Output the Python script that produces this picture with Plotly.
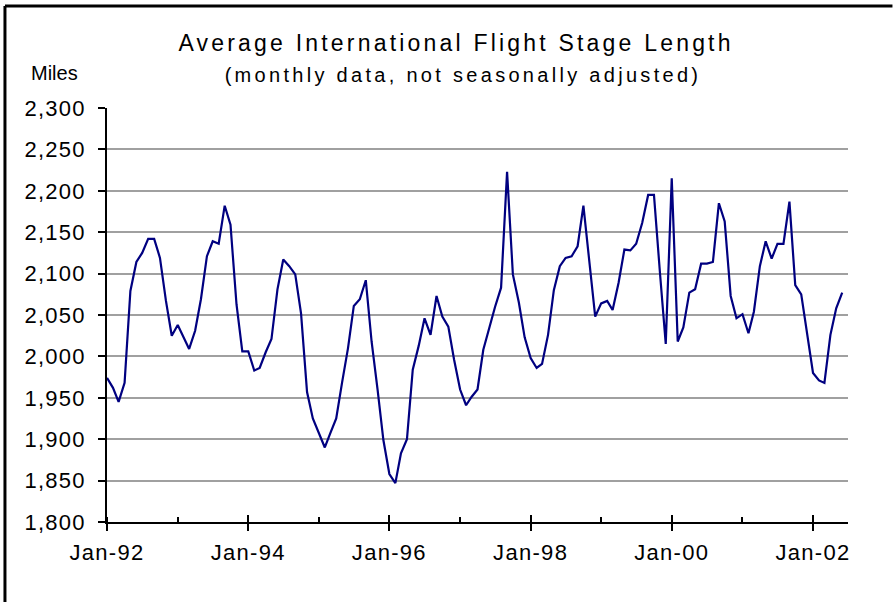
import plotly.graph_objects as go
import pandas as pd

# Monthly average international flight stage length (miles), Jan-1992 .. Jun-2002
start_month = "1992-01-01"
stage_length = [
    1974, 1962, 1945, 1968, 2079, 2114, 2125, 2142, 2142, 2119, 2067, 2025,  # 1992
    2038, 2022, 2009, 2031, 2069, 2121, 2139, 2136, 2182, 2159, 2063, 2006,  # 1993
    2006, 1983, 1986, 2005, 2021, 2081, 2117, 2109, 2099, 2052, 1957, 1925,  # 1994
    1908, 1890, 1907, 1925, 1968, 2010, 2061, 2069, 2092, 2018, 1960, 1899,  # 1995
    1858, 1847, 1883, 1900, 1984, 2013, 2046, 2026, 2073, 2048, 2036, 1996,  # 1996
    1960, 1941, 1951, 1960, 2008, 2036, 2060, 2083, 2223, 2099, 2065, 2023,  # 1997
    1998, 1986, 1991, 2026, 2080, 2109, 2119, 2121, 2133, 2182, 2114, 2048,  # 1998
    2064, 2067, 2056, 2089, 2129, 2128, 2136, 2161, 2195, 2195, 2101, 2015,  # 1999
    2215, 2018, 2035, 2077, 2081, 2112, 2112, 2114, 2185, 2163, 2073, 2046,  # 2000
    2051, 2028, 2054, 2109, 2139, 2118, 2136, 2136, 2187, 2086, 2075, 2028,  # 2001
    1980, 1971, 1968, 2026, 2058, 2077,                                      # 2002
]
months = pd.date_range(start=start_month, periods=len(stage_length), freq="MS")

x_tick_vals = ["1992-01-01", "1994-01-01", "1996-01-01", "1998-01-01", "2000-01-01", "2002-01-01"]
x_tick_text = ["Jan-92", "Jan-94", "Jan-96", "Jan-98", "Jan-00", "Jan-02"]
y_tick_vals = [1800, 1850, 1900, 1950, 2000, 2050, 2100, 2150, 2200, 2250, 2300]
x_range = ["1992-01-01", "2002-07-01"]
y_range = [1800, 2300]

title_text = "Average International Flight Stage Length"
subtitle_text = "(monthly data, not seasonally adjusted)"
y_unit_text = "Miles"

FONT = "Liberation Sans, Arial, sans-serif"

fig = go.Figure()
fig.add_trace(go.Scatter(
    x=months, y=stage_length, mode="lines",
    line=dict(color="#000080", width=2.2),
    hoverinfo="x+y", showlegend=False,
))
# invisible companion trace so the overlay axis (upper half of crossing ticks) is drawn
fig.add_trace(go.Scatter(
    x=months, y=stage_length, mode="lines", xaxis="x2",
    line=dict(color="rgba(0,0,0,0)", width=0), hoverinfo="skip", showlegend=False,
))

fig.update_layout(
    width=896, height=602,
    margin=dict(l=107, r=48, t=108, b=80),
    paper_bgcolor="white", plot_bgcolor="white",
    font=dict(family=FONT, size=22, color="black"),
    title=dict(
        text=title_text, x=0.509, xanchor="center", xref="container",
        y=0.929, yanchor="middle", yref="container",
        font=dict(family=FONT, size=23, color="black"),
    ),
    xaxis=dict(
        type="date", range=x_range,
        tickvals=x_tick_vals, ticktext=x_tick_text,
        ticks="outside", ticklen=7, tickwidth=2, tickcolor="black",
        showline=True, linecolor="black", linewidth=2,
        showgrid=False, zeroline=False, ticklabelstandoff=3,
        tickfont=dict(family=FONT, size=22, color="black"),
        minor=dict(dtick="M12", tick0="1992-01-01", ticks="inside", ticklen=5,
                   tickwidth=2, tickcolor="black", showgrid=False),
    ),
    xaxis2=dict(
        type="date", overlaying="x", matches="x", range=x_range,
        tickvals=x_tick_vals, showticklabels=False,
        ticks="inside", ticklen=7, tickwidth=2, tickcolor="black",
        showline=False, showgrid=False, zeroline=False, side="bottom",
    ),
    yaxis=dict(
        range=y_range, tickvals=y_tick_vals, tickformat=",",
        ticks="outside", ticklen=7, tickwidth=2, tickcolor="black",
        showline=True, linecolor="black", linewidth=2,
        showgrid=True, gridcolor="#a0a0a0", gridwidth=2,
        zeroline=False, ticklabelstandoff=8,
        tickfont=dict(family=FONT, size=22, color="black"),
    ),
    annotations=[
        dict(text=subtitle_text, xref="paper", yref="paper", x=0.481, y=1.080,
             xanchor="center", yanchor="middle", showarrow=False,
             font=dict(family=FONT, size=20, color="black")),
        dict(text=y_unit_text, xref="paper", yref="paper", x=-0.071, y=1.085,
             xanchor="center", yanchor="middle", showarrow=False,
             font=dict(family=FONT, size=20, color="black")),
    ],
    shapes=[
        # chart-area frame (left and top edges visible in the picture)
        dict(type="line", xref="paper", yref="paper", x0=-0.1377, x1=-0.1377, y0=1.2464, y1=-0.20,
             line=dict(color="black", width=3)),
        dict(type="line", xref="paper", yref="paper", x0=-0.1377, x1=1.06, y0=1.2464, y1=1.2464,
             line=dict(color="black", width=3)),
    ],
)

post_js = """
document.body.style.margin = '0';
document.body.style.overflow = 'hidden';
var st = document.createElement('style');
st.innerHTML = '.gtitle{letter-spacing:3.2px;} .xtick text{letter-spacing:1.3px;} .ytick text{letter-spacing:1.2px;} .annotation[data-index="0"] text{letter-spacing:3.3px;}';
document.head.appendChild(st);
"""

fig.write_html("out.html", post_script=post_js, config={"displayModeBar": False})
